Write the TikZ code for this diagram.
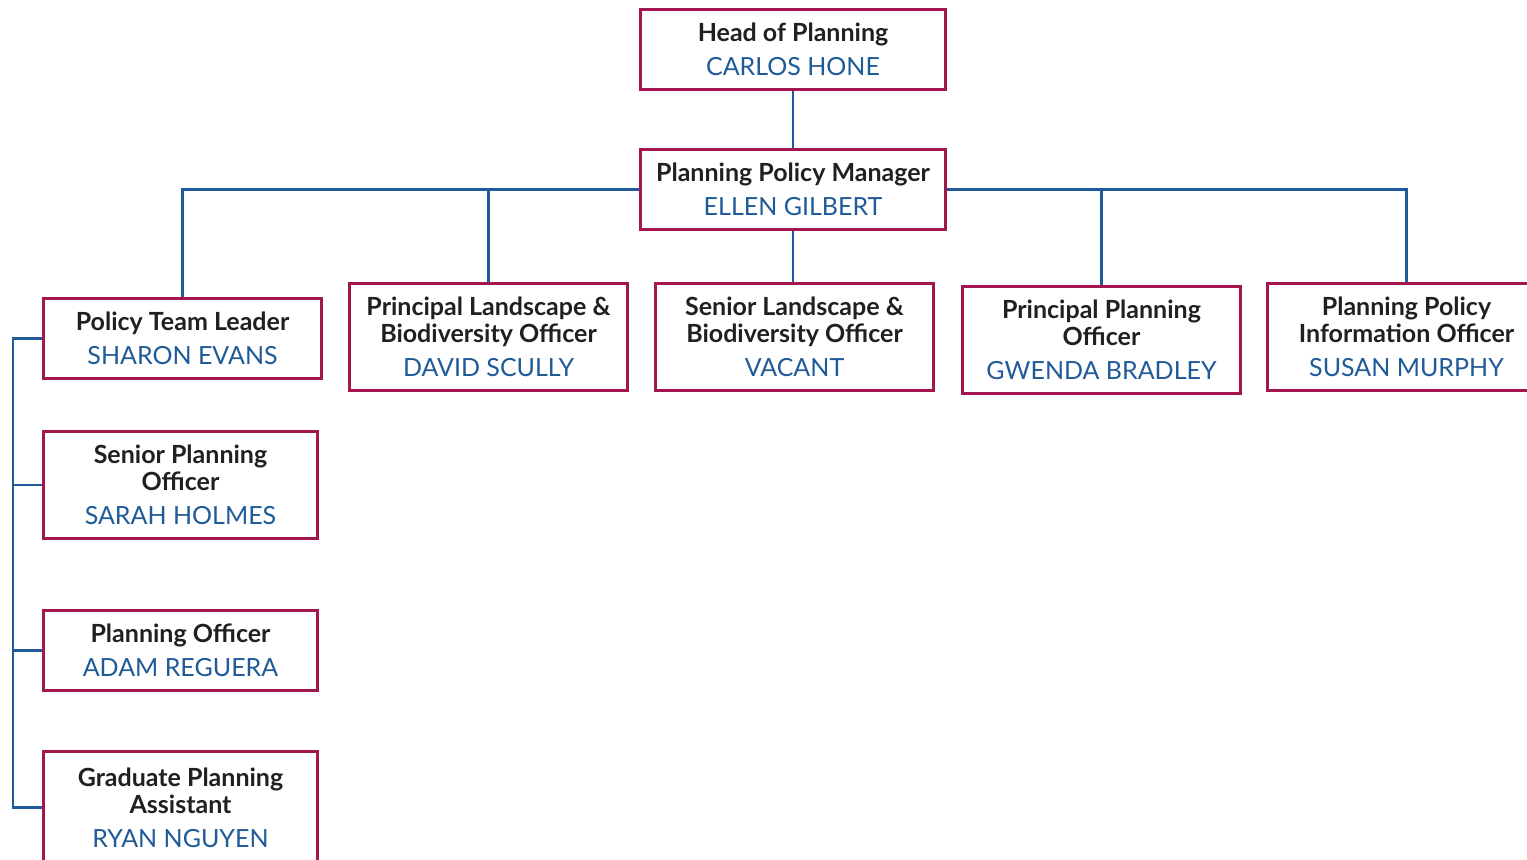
\documentclass[tikz,border=0pt]{standalone}
\usepackage{fontspec}
\setmainfont{Lato}
\definecolor{boxred}{HTML}{A3174E}
\definecolor{lineblue}{HTML}{1F5A99}
\definecolor{inkgrey}{HTML}{231F20}
\newcommand{\who}[1]{\\[3.5pt]\textcolor{lineblue}{#1}}
\begin{document}
\begin{tikzpicture}[x=0.5pt,y=-0.5pt,
    post/.style={draw=boxred, line width=1.6pt, fill=white, inner sep=0pt, align=center,
      text=inkgrey, font=\fontsize{12.5}{13.5}\selectfont},
    short/.style={post, minimum height=40pt},
    tall/.style={post, minimum height=53.5pt},
    link/.style={draw=lineblue, line width=1.25pt}]
    \useasboundingbox (0,0) rectangle (1527,859);
    % top of the tree
    \node[short, minimum width=152.5pt] (head) at (793,49.5) {\textbf{Head of Planning}\who{CARLOS HONE}};
    \node[short, minimum width=152.5pt] (ppm) at (793,189.5) {\textbf{Planning Policy Manager}\who{ELLEN GILBERT}};
    % second row
    \node[short, minimum width=139pt] (ptl) at (182.5,338.5) {\textbf{Policy Team Leader}\who{SHARON EVANS}};
    \node[tall, minimum width=139pt] (plbo) at (488.5,337) {\textbf{Principal Landscape \&}\\\textbf{Biodiversity Officer}\who{DAVID SCULLY}};
    \node[tall, minimum width=139pt] (slbo) at (794.5,337) {\textbf{Senior Landscape \&}\\\textbf{Biodiversity Officer}\who{VACANT}};
    \node[tall, minimum width=139pt] (ppo) at (1101.5,340) {\textbf{Principal Planning}\\\textbf{Officer}\who{GWENDA BRADLEY}};
    \node[tall, minimum width=139pt] (ppio) at (1406.5,337) {\textbf{Planning Policy}\\\textbf{Information Officer}\who{SUSAN MURPHY}};
    % team under the leader
    \node[tall, minimum width=137pt] (spo) at (180.5,485) {\textbf{Senior Planning}\\\textbf{Officer}\who{SARAH HOLMES}};
    \node[short, minimum width=137pt] (po) at (180.5,650.5) {\textbf{Planning Officer}\who{ADAM REGUERA}};
    \node[tall, minimum width=137pt, minimum height=56pt] (gpa) at (180.5,807.5) {\textbf{Graduate Planning}\\\textbf{Assistant}\who{RYAN NGUYEN}};
    % connectors
    \coordinate (spine) at (13,0);
    \draw[link] (head.south) -- (ppm.north);
    \draw[link] (ppm.south) -- (ppm.south |- slbo.north);
    \draw[link] (ppm.west) -| (ptl.north);
    \draw[link] (ppm.west -| plbo.north) -- (plbo.north);
    \draw[link] (ppm.east) -| (ppio.north);
    \draw[link] (ppm.east -| ppo.north) -- (ppo.north);
    \draw[link] (ptl.west) -- (ptl.west -| spine) -- (gpa.west -| spine) -- (gpa.west);
    \draw[link] (spo.west) -- (spo.west -| spine);
    \draw[link] (po.west) -- (po.west -| spine);
\end{tikzpicture}
\end{document}
